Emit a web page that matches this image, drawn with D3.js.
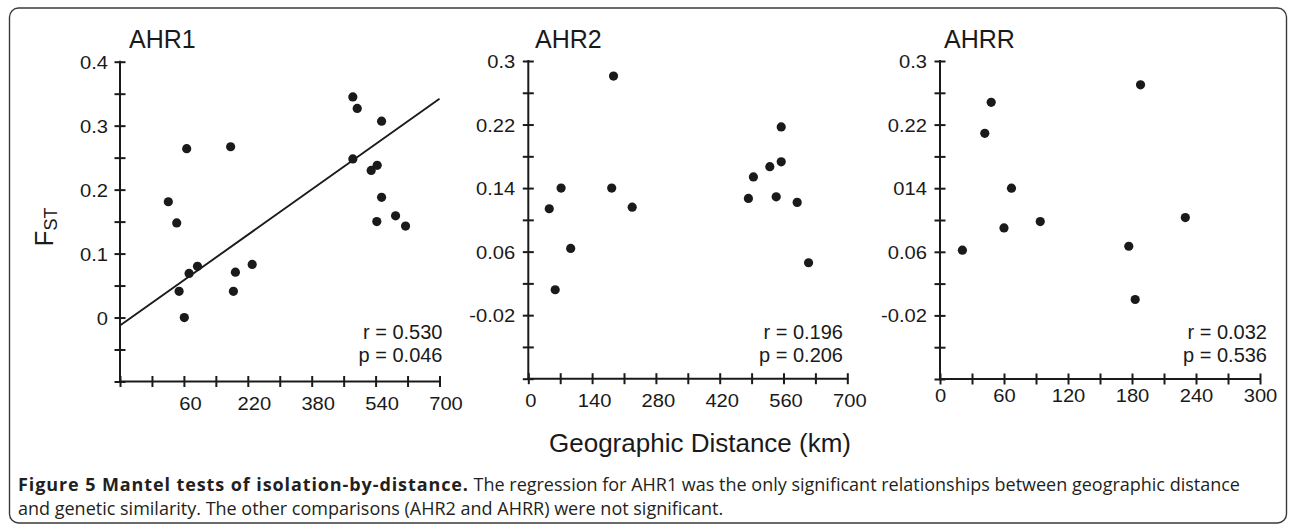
<!DOCTYPE html>
<html>
<head>
<meta charset="utf-8">
<script src="https://cdn.jsdelivr.net/npm/d3@7"></script>
<style>
  html, body { margin: 0; padding: 0; background: #fff; }
  svg { display: block; }
</style>
</head>
<body>
<svg id="chart" width="1290" height="526"></svg>
<script>
// ---------------- DATA ----------------
const panelTitles = ["AHR1", "AHR2", "AHRR"];
const statR = ["r = 0.530", "r = 0.196", "r = 0.032"];
const statP = ["p = 0.046", "p = 0.206", "p = 0.536"];

// AHR1
const ahr1Distance = [21, 42, 67, 48, 61, 73, 94, 177, 184, 189, 231, 483, 494, 483, 555, 529, 544, 555, 543, 590, 615];
const ahr1Fst      = [0.181, 0.148, 0.264, 0.041, 0.000, 0.069, 0.080, 0.267, 0.041, 0.071, 0.083, 0.345, 0.327, 0.248, 0.307, 0.230, 0.238, 0.188, 0.150, 0.159, 0.143];
const ahr1Regression = [[-100, -0.0125], [700, 0.342]];
const ahr1XTicks = [-100, -20, 60, 140, 220, 300, 380, 460, 540, 620, 700];
const ahr1XTickLabels = ["", "", "60", "", "220", "", "380", "", "540", "", "700"];
const ahr1YTicks = [-0.1, -0.05, 0, 0.05, 0.1, 0.15, 0.2, 0.25, 0.3, 0.35, 0.4];
const ahr1YTickLabels = ["", "", "0", "", "0.1", "", "0.2", "", "0.3", "", "0.4"];

// AHR2
const ahr2Distance = [46, 72, 59, 93, 187, 183, 228, 483, 494, 530, 544, 555, 555, 590, 615];
const ahr2Fst      = [0.114, 0.140, 0.012, 0.064, 0.281, 0.140, 0.116, 0.127, 0.154, 0.167, 0.129, 0.217, 0.173, 0.122, 0.046];
const ahr2XTicks = [0, 70, 140, 210, 280, 350, 420, 490, 560, 630, 700];
const ahr2XTickLabels = ["0", "", "140", "", "280", "", "420", "", "560", "", "700"];
const ahr2YTicks = [-0.1, -0.06, -0.02, 0.02, 0.06, 0.1, 0.14, 0.18, 0.22, 0.26, 0.3];
const ahr2YTickLabels = ["", "", "-0.02", "", "0.06", "", "0.14", "", "0.22", "", "0.3"];

// AHRR
const ahrrDistance = [21, 42, 48, 67, 60, 94, 177, 183, 188, 230];
const ahrrFst      = [0.062, 0.209, 0.248, 0.140, 0.090, 0.098, 0.067, 0.000, 0.270, 0.103];
const ahrrXTicks = [0, 30, 60, 90, 120, 150, 180, 210, 240, 270, 300];
const ahrrXTickLabels = ["0", "", "60", "", "120", "", "180", "", "240", "", "300"];
const ahrrYTicks = [-0.1, -0.06, -0.02, 0.02, 0.06, 0.1, 0.14, 0.18, 0.22, 0.26, 0.3];
const ahrrYTickLabels = ["", "", "-0.02", "", "0.06", "", "014", "", "0.22", "", "0.3"];

const yAxisLabelMain = "F";
const yAxisLabelSub = "ST";
const xAxisLabel = "Geographic Distance (km)";
const captionBold = "Figure 5 Mantel tests of isolation-by-distance.";
const captionRest1 = " The regression for AHR1 was the only significant relationships between geographic distance";
const captionLine2 = "and genetic similarity. The other comparisons (AHR2 and AHRR) were not significant.";

// ---------------- LAYOUT ----------------
const ink = "#1a1a1a";
const chartFont = "'Liberation Sans', Arial, Helvetica, sans-serif";
const panels = [
  { title: panelTitles[0], xs: ahr1Distance, ys: ahr1Fst, line: ahr1Regression,
    xDomain: [-100, 700], yDomain: [-0.1, 0.4],
    xRange: [120, 439.5], yRange: [381.5, 61.7],
    xTicks: ahr1XTicks, xLabels: ahr1XTickLabels, yTicks: ahr1YTicks, yLabels: ahr1YTickLabels,
    xLabelDx: 6, xLabelDy: 28, yGap: 12, titleX: 129, titleY: 47.5, statX: 442.5, r: statR[0], p: statP[0] },
  { title: panelTitles[1], xs: ahr2Distance, ys: ahr2Fst, line: null,
    xDomain: [0, 700], yDomain: [-0.1, 0.3],
    xRange: [528.3, 847.3], yRange: [378.7, 61],
    xTicks: ahr2XTicks, xLabels: ahr2XTickLabels, yTicks: ahr2YTicks, yLabels: ahr2YTickLabels,
    xLabelDx: 2, xLabelDy: 28, yGap: 13, titleX: 535, titleY: 48, statX: 843, r: statR[1], p: statP[1] },
  { title: panelTitles[2], xs: ahrrDistance, ys: ahrrFst, line: null,
    xDomain: [0, 300], yDomain: [-0.1, 0.3],
    xRange: [940, 1260], yRange: [379, 61],
    xTicks: ahrrXTicks, xLabels: ahrrXTickLabels, yTicks: ahrrYTicks, yLabels: ahrrYTickLabels,
    xLabelDx: 0, xLabelDy: 23, yGap: 13, titleX: 944, titleY: 48, statX: 1267, r: statR[2], p: statP[2] }
];

const svg = d3.select("#chart");

// frame
svg.append("rect")
  .attr("x", 9.5).attr("y", 8).attr("width", 1277).attr("height", 515)
  .attr("rx", 9).attr("ry", 9)
  .attr("fill", "none").attr("stroke", "#3a3a3a").attr("stroke-width", 1.4);

const tickFontSize = 18, tickScaleX = 1.12;

panels.forEach(p => {
  const x = d3.scaleLinear().domain(p.xDomain).range(p.xRange);
  const y = d3.scaleLinear().domain(p.yDomain).range(p.yRange);
  const g = svg.append("g");

  // y axis
  const yAxis = d3.axisLeft(y).tickValues(p.yTicks)
    .tickFormat((d, i) => p.yLabels[i]).tickSizeOuter(0).tickSizeInner(5.5);
  const gy = g.append("g").attr("transform", `translate(${p.xRange[0]},0)`).call(yAxis);
  gy.select(".domain").attr("stroke", ink).attr("stroke-width", 2)
    .attr("d", `M0,${p.yRange[0]}V${p.yRange[1] - 1}`);
  gy.selectAll(".tick line").attr("x1", 5.5).attr("x2", -5.5)
    .attr("stroke", ink).attr("stroke-width", 2);
  gy.selectAll(".tick text")
    .attr("x", null).attr("dy", null)
    .attr("transform", `translate(${-p.yGap},6.5) scale(${tickScaleX},1)`)
    .attr("text-anchor", "end")
    .attr("fill", ink)
    .style("font-family", chartFont).style("font-size", tickFontSize + "px");

  // x axis
  const xAxis = d3.axisBottom(x).tickValues(p.xTicks)
    .tickFormat((d, i) => p.xLabels[i]).tickSizeOuter(0).tickSizeInner(5.5);
  const gx = g.append("g").attr("transform", `translate(0,${p.yRange[0]})`).call(xAxis);
  gx.select(".domain").attr("stroke", ink).attr("stroke-width", 2)
    .attr("d", `M${p.xRange[0] - 1},0H${p.xRange[1] + 1}`);
  gx.selectAll(".tick line").attr("y1", -5.5).attr("y2", 5.5)
    .attr("stroke", ink).attr("stroke-width", 2);
  gx.selectAll(".tick text")
    .attr("y", null).attr("dy", null)
    .attr("transform", `translate(${p.xLabelDx},${p.xLabelDy}) scale(${tickScaleX},1)`)
    .attr("text-anchor", "middle")
    .attr("fill", ink)
    .style("font-family", chartFont).style("font-size", tickFontSize + "px");

  // regression line
  if (p.line) {
    g.append("line")
      .attr("x1", x(p.line[0][0])).attr("y1", y(p.line[0][1]))
      .attr("x2", x(p.line[1][0])).attr("y2", y(p.line[1][1]))
      .attr("stroke", ink).attr("stroke-width", 1.9);
  }

  // points
  g.selectAll("circle.pt").data(p.xs.map((d, i) => [d, p.ys[i]]))
    .join("circle").attr("class", "pt")
    .attr("cx", d => x(d[0])).attr("cy", d => y(d[1]))
    .attr("r", 4.6).attr("fill", ink);

  // title
  g.append("text").attr("x", p.titleX).attr("y", p.titleY)
    .attr("fill", ink).style("font-family", chartFont).style("font-size", "25px")
    .text(p.title);

  // stats
  g.append("text").attr("x", p.statX).attr("y", 339).attr("text-anchor", "end")
    .attr("fill", ink).style("font-family", chartFont).style("font-size", "20px")
    .text(p.r);
  g.append("text").attr("x", p.statX).attr("y", 362).attr("text-anchor", "end")
    .attr("fill", ink).style("font-family", chartFont).style("font-size", "20px")
    .text(p.p);
});

// y axis label F_ST
const yl = svg.append("text")
  .attr("transform", "translate(53,227) rotate(-90)")
  .attr("text-anchor", "middle")
  .attr("fill", ink).style("font-family", chartFont);
yl.append("tspan").style("font-size", "26px").text(yAxisLabelMain);
yl.append("tspan").attr("dy", 4).style("font-size", "18px").text(yAxisLabelSub);

// x axis label
svg.append("text").attr("x", 700).attr("y", 451.5).attr("text-anchor", "middle")
  .attr("fill", ink).style("font-family", chartFont).style("font-size", "26px")
  .text(xAxisLabel);

// caption
const capFont = "'Open Sans', 'Noto Sans', sans-serif";
const c1 = svg.append("text").attr("x", 18).attr("y", 491)
  .attr("fill", "#231f20").style("font-family", capFont).style("font-size", "18px");
c1.append("tspan").style("font-weight", "700").style("letter-spacing", "0.9px").text(captionBold);
c1.append("tspan").style("font-weight", "400").style("letter-spacing", "0px").text(captionRest1);
svg.append("text").attr("x", 18).attr("y", 515)
  .attr("fill", "#231f20").style("font-family", capFont).style("font-size", "18px")
  .text(captionLine2);
</script>
</body>
</html>
